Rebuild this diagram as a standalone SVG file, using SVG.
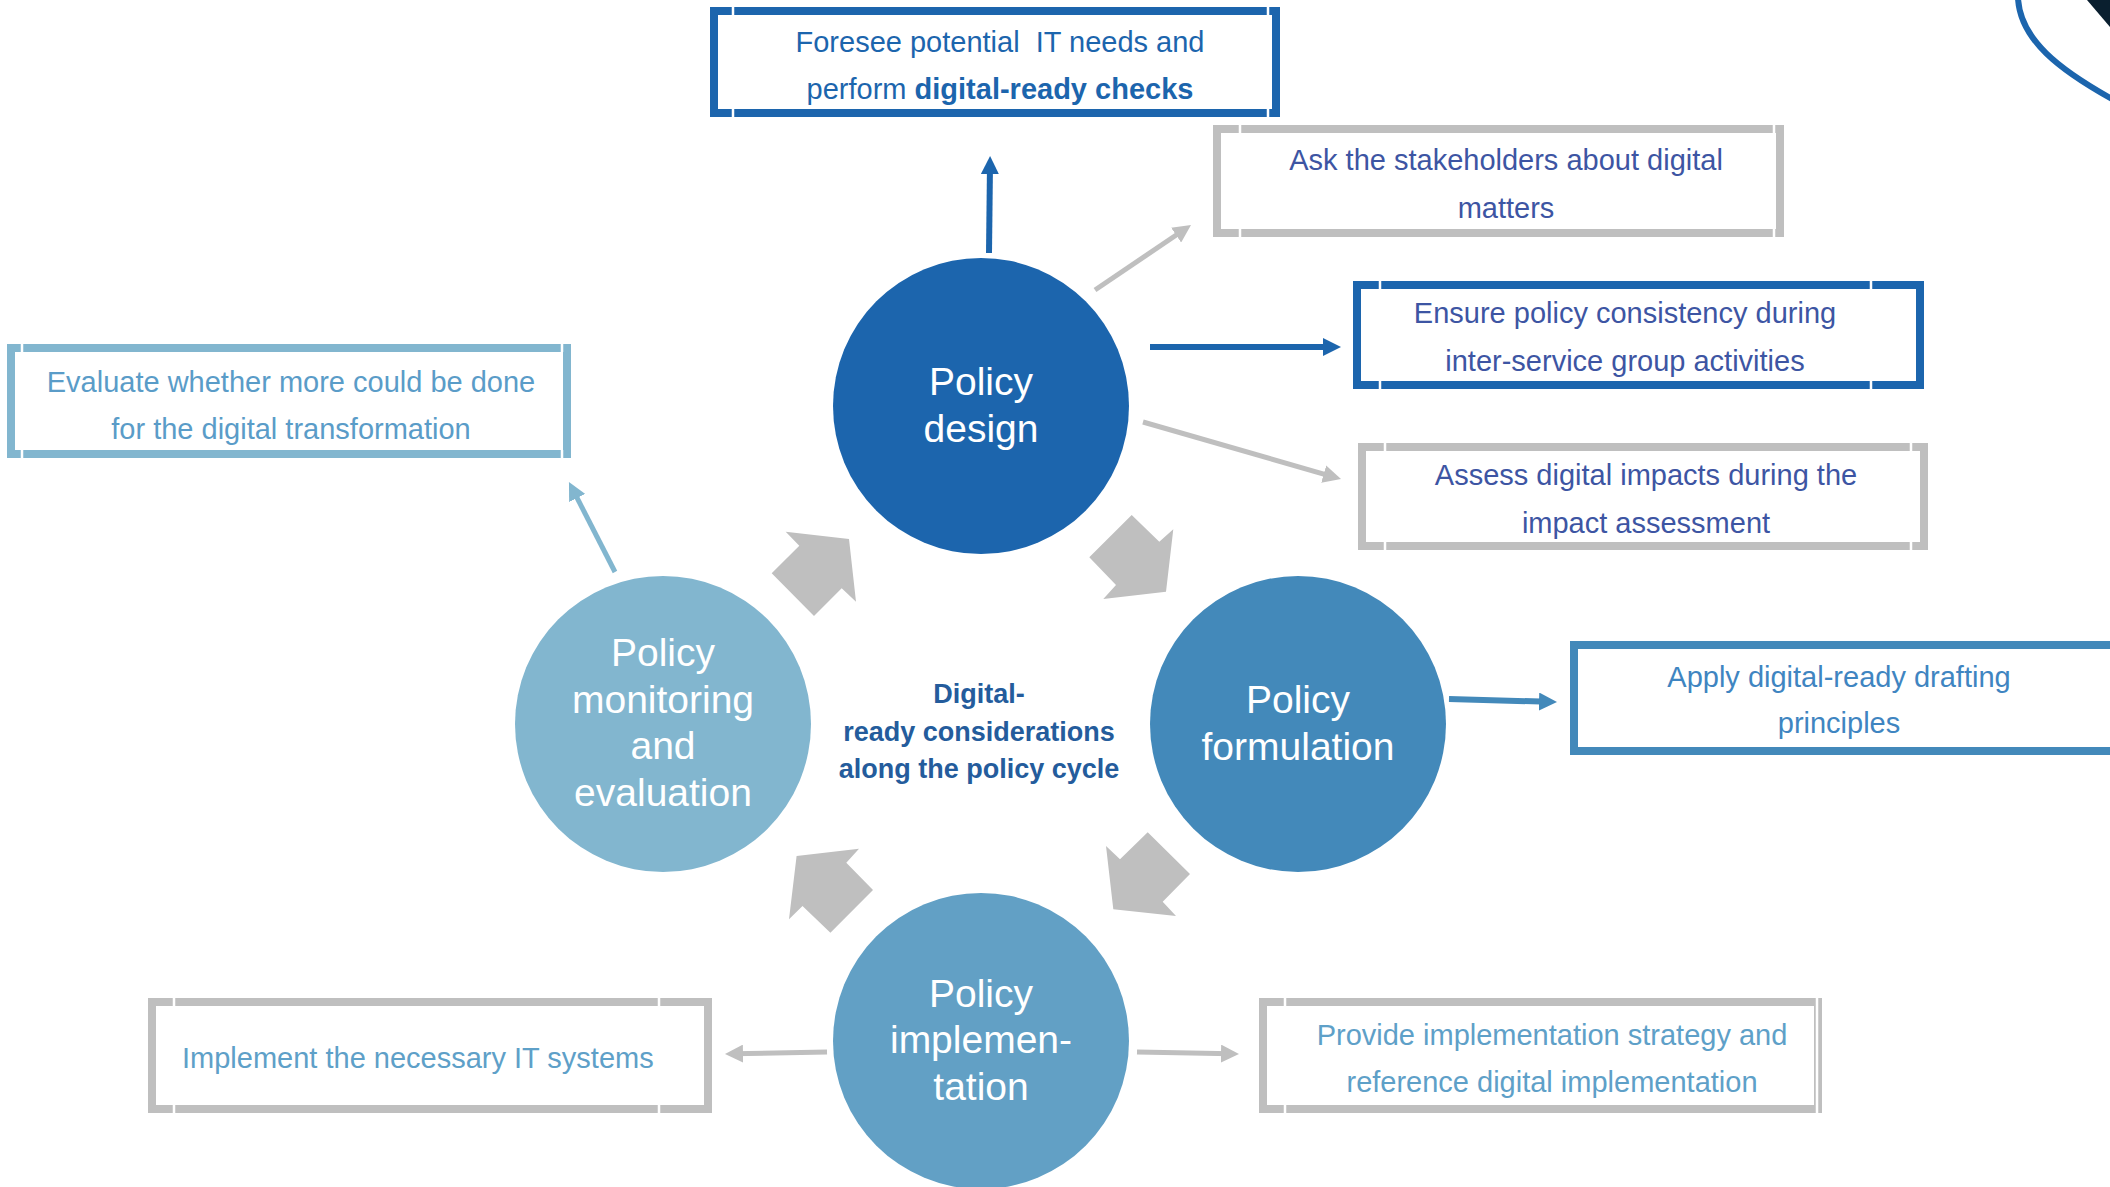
<svg xmlns="http://www.w3.org/2000/svg" width="2110" height="1187" viewBox="0 0 2110 1187">
<style>
.box{fill:#fff;stroke-width:8}
.gap{stroke:#fff;stroke-width:2.5}
.bt{font-family:"Liberation Sans",Arial,sans-serif;font-size:29px;text-anchor:middle}
.ct{font-family:"Liberation Sans",Arial,sans-serif;font-size:39px;fill:#fff;text-anchor:middle}
.mid{font-family:"Liberation Sans",Arial,sans-serif;font-size:27px;font-weight:bold;fill:#245c9c;text-anchor:middle}
.blk{fill:#bfbfbf}
.con{fill:none}
</style>
<defs>
<marker id="mBlue" markerUnits="userSpaceOnUse" markerWidth="18" markerHeight="18" refX="10" refY="9" orient="auto"><path d="M0,0 L18,9 L0,18 z" fill="#1c65ad"/></marker>
<marker id="mGray" markerUnits="userSpaceOnUse" markerWidth="18" markerHeight="18" refX="10" refY="9" orient="auto"><path d="M0,0 L18,9 L0,18 z" fill="#bfbfbf"/></marker>
<marker id="mMid" markerUnits="userSpaceOnUse" markerWidth="18" markerHeight="18" refX="10" refY="9" orient="auto"><path d="M0,0 L18,9 L0,18 z" fill="#4389ba"/></marker>
<marker id="mLight" markerUnits="userSpaceOnUse" markerWidth="18" markerHeight="18" refX="10" refY="9" orient="auto"><path d="M0,0 L18,9 L0,18 z" fill="#82b6cf"/></marker>
</defs>
<rect x="0" y="0" width="2110" height="1187" fill="#fff"/>

<g id="corner-decoration">
<path d="M2087,0 L2110,0 L2110,27 Z" fill="#0a1f2f"/>
<path d="M2018,-2 C2020,40 2060,70 2112,99" fill="none" stroke="#1c65ad" stroke-width="6"/>
</g>

<g id="cycle-arrows">
<polygon class="blk" points="1131.7,515 1159.3,541.7 1173.3,529.3 1166,591.7 1103.3,599 1116,585 1089.3,557.3"/>
<polygon class="blk" points="1106,846 1120,859.3 1147.7,832.3 1190,874 1162.7,901.7 1176,916 1113.3,909.3"/>
<polygon class="blk" points="873,890 830.4,932.7 802.5,906 789,919.3 796.6,856 859,848.7 846.3,862.7"/>
<polygon class="blk" points="785.7,531.7 849,539 856,601.7 841.7,588.3 814,616 771.7,573.3 799.3,545.7"/>
</g>

<g id="connectors">
<path class="con" d="M989,253 L990,164" stroke="#1c65ad" stroke-width="6" marker-end="url(#mBlue)"/>
<path class="con" d="M1095,290 L1184.4,229.5" stroke="#bfbfbf" stroke-width="5" marker-end="url(#mGray)"/>
<path class="con" d="M1150,347 L1333,347" stroke="#1c65ad" stroke-width="6" marker-end="url(#mBlue)"/>
<path class="con" d="M1143,422 L1333.3,476.8" stroke="#bfbfbf" stroke-width="5" marker-end="url(#mGray)"/>
<path class="con" d="M1449,699 L1549,701.8" stroke="#4389ba" stroke-width="6" marker-end="url(#mMid)"/>
<path class="con" d="M615,572 L572.6,489.1" stroke="#82b6cf" stroke-width="5" marker-end="url(#mLight)"/>
<path class="con" d="M827,1052 L733,1053.8" stroke="#bfbfbf" stroke-width="5" marker-end="url(#mGray)"/>
<path class="con" d="M1137,1052 L1231,1053.8" stroke="#bfbfbf" stroke-width="5" marker-end="url(#mGray)"/>
</g>

<g id="policy-design">
<circle cx="981" cy="406" r="148" fill="#1c65ad"/>
<text class="ct" x="981" y="395">Policy</text>
<text class="ct" x="981" y="442">design</text>
</g>
<g id="policy-formulation">
<circle cx="1298" cy="724" r="148" fill="#4389ba"/>
<text class="ct" x="1298" y="713">Policy</text>
<text class="ct" x="1298" y="760">formulation</text>
</g>
<g id="policy-implementation">
<circle cx="981" cy="1041" r="148" fill="#62a0c5"/>
<text class="ct" x="981" y="1007">Policy</text>
<text class="ct" x="981" y="1053">implemen-</text>
<text class="ct" x="981" y="1100">tation</text>
</g>
<g id="policy-monitoring">
<circle cx="663" cy="724" r="148" fill="#82b6cf"/>
<text class="ct" x="663" y="666">Policy</text>
<text class="ct" x="663" y="713">monitoring</text>
<text class="ct" x="663" y="759">and</text>
<text class="ct" x="663" y="806">evaluation</text>
</g>

<g id="center-label">
<text class="mid" x="979" y="703">Digital-</text>
<text class="mid" x="979" y="741">ready considerations</text>
<text class="mid" x="979" y="778">along the policy cycle</text>
</g>

<g id="box-foresee">
<rect class="box" x="714" y="11" width="562" height="102" stroke="#1c65ad"/>
<path class="gap" d="M733,7 V15 M733,109 V117 M1268,7 V15 M1268,109 V117"/>
<text class="bt" x="1000" y="52" fill="#1c65ad" xml:space="preserve">Foresee potential  IT needs and</text>
<text class="bt" x="1000" y="99" fill="#1c65ad">perform <tspan font-weight="bold">digital-ready checks</tspan></text>
</g>
<g id="box-ask">
<rect class="box" x="1217" y="129" width="563" height="104" stroke="#bfbfbf"/>
<path class="gap" d="M1240,125 V133 M1240,229 V237 M1774,125 V133 M1774,229 V237"/>
<text class="bt" x="1506" y="170" fill="#3d55a3">Ask the stakeholders about digital</text>
<text class="bt" x="1506" y="218" fill="#3d55a3">matters</text>
</g>
<g id="box-ensure">
<rect class="box" x="1357" y="285" width="563" height="100" stroke="#1c65ad"/>
<path class="gap" d="M1380,281 V289 M1380,381 V389 M1871,281 V289 M1871,381 V389"/>
<text class="bt" x="1625" y="323" fill="#3d55a3">Ensure policy consistency during</text>
<text class="bt" x="1625" y="371" fill="#3d55a3">inter-service group activities</text>
</g>
<g id="box-assess">
<rect class="box" x="1362" y="447" width="562" height="99" stroke="#bfbfbf"/>
<path class="gap" d="M1385,443 V451 M1385,542 V550 M1911,443 V451 M1911,542 V550"/>
<text class="bt" x="1646" y="485" fill="#3d55a3">Assess digital impacts during the</text>
<text class="bt" x="1646" y="533" fill="#3d55a3">impact assessment</text>
</g>
<g id="box-apply">
<rect class="box" x="1574" y="645" width="560" height="106" stroke="#4389ba"/>
<text class="bt" x="1839" y="687" fill="#3f85c1">Apply digital-ready drafting</text>
<text class="bt" x="1839" y="733" fill="#3f85c1">principles</text>
</g>
<g id="box-evaluate">
<rect class="box" x="11" y="348" width="556" height="106" stroke="#82b6cf"/>
<path class="gap" d="M22,344 V352 M22,450 V458 M562,344 V352 M562,450 V458"/>
<text class="bt" x="291" y="392" fill="#5a9cc8">Evaluate whether more could be done</text>
<text class="bt" x="291" y="439" fill="#5a9cc8">for the digital transformation</text>
</g>
<g id="box-implement">
<rect class="box" x="152" y="1002" width="556" height="107" stroke="#bfbfbf"/>
<path class="gap" d="M174,998 V1006 M174,1105 V1113 M659,998 V1006 M659,1105 V1113"/>
<text class="bt" x="182" y="1068" fill="#5ea0c8" style="text-anchor:start">Implement the necessary IT systems</text>
</g>
<g id="box-provide">
<rect class="box" x="1263" y="1002" width="555" height="107" stroke="#bfbfbf"/>
<path class="gap" d="M1285,998 V1006 M1285,1105 V1113 M1817,998 V1113"/>
<text class="bt" x="1552" y="1045" fill="#5ea0c8">Provide implementation strategy and</text>
<text class="bt" x="1552" y="1092" fill="#5ea0c8">reference digital implementation</text>
</g>
</svg>
